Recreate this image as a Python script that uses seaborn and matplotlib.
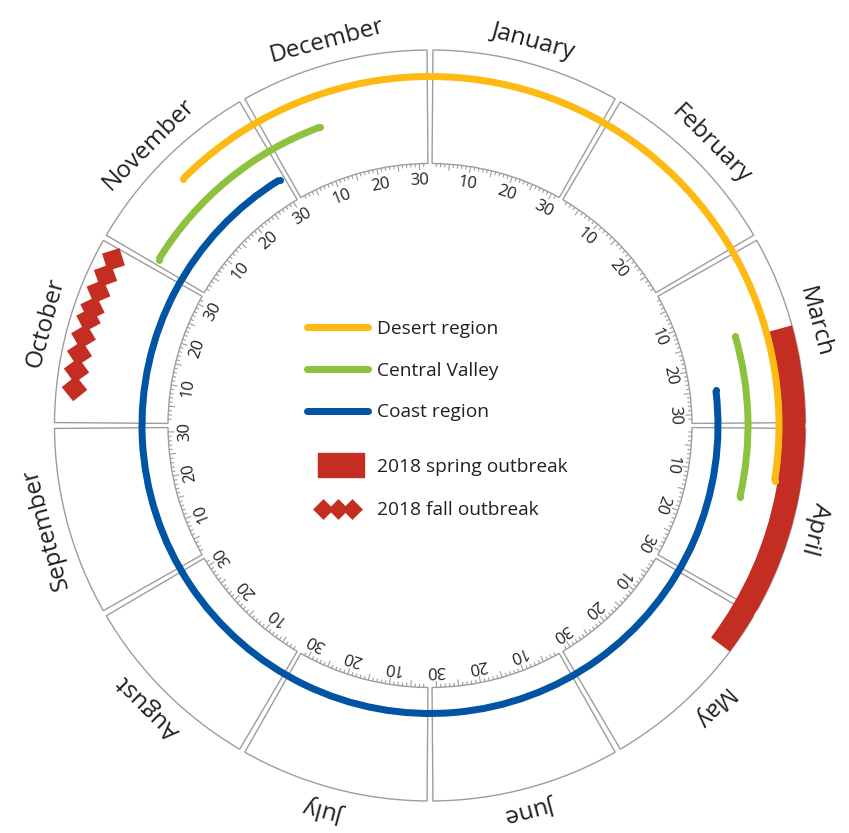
import numpy as np
import matplotlib
matplotlib.use("Agg")
import matplotlib.pyplot as plt
import matplotlib.patches as mpatches
from matplotlib.lines import Line2D
from matplotlib.legend_handler import HandlerLine2D, HandlerPatch
import seaborn as sns

# Calendar
months = ["January", "February", "March", "April", "May", "June",
          "July", "August", "September", "October", "November", "December"]
month_days = [31, 28, 31, 30, 31, 30, 31, 31, 30, 31, 30, 31]
tick_label_days = [10, 20, 30]

# Seasons per region, (month, day) start -> end, running clockwise
desert_start = [(11, 16)]
desert_end = [(4, 10)]
central_start = [(11, 2), (3, 15)]
central_end = [(12, 11), (4, 14)]
coast_start = [(3, 25)]
coast_end = [(11, 30)]

# 2018 outbreaks
spring_start = (3, 16)
spring_end = (5, 8)
fall_month = 10
fall_days = [7, 10, 13, 16, 19, 21, 24, 27, 30]

region_labels = ["Desert region", "Central Valley", "Coast region"]
outbreak_labels = ["2018 spring outbreak", "2018 fall outbreak"]

# colours
c_desert = "#fdba12"
c_central = "#8dc23f"
c_coast = "#0054a3"
c_red = "#c42d22"
c_grey = "#9d9d9d"
c_text = "#231f20"

# geometry (radius units are pixels)
R_IN, R_OUT = 262, 375.5
GAP = 0.9
LW = 7
R_DESERT, R_CENTRAL, R_COAST = 349, 318, 288
R_FALL = 358

sns.set_theme(style="white")
plt.rcParams["font.family"] = ["Open Sans", "DejaVu Sans"]


def theta(month, day):
    i = month - 1
    deg = i * 30 + GAP / 2 + (day - 1) / month_days[i] * (30 - GAP)
    return np.deg2rad(deg)


fig = plt.figure(figsize=(8.49, 8.33), dpi=100)
ax = fig.add_axes([20 / 849, -2.5 / 833, 820 / 849, 820 / 833], projection="polar")
ax.set_theta_zero_location("N")
ax.set_theta_direction(-1)
ax.set_ylim(0, 410)
ax.set_axis_off()

# month boxes, day ticks and labels
for i, name in enumerate(months):
    t0 = np.deg2rad(i * 30 + GAP / 2)
    ax.bar(t0, R_OUT - R_IN, width=np.deg2rad(30 - GAP), bottom=R_IN,
           align="edge", facecolor="none", edgecolor=c_grey, linewidth=1.0)
    days = np.arange(2, month_days[i] + 1)
    short = [theta(i + 1, d) for d in days if d % 5]
    long_ = [theta(i + 1, d) for d in days if d % 5 == 0]
    ax.vlines(short, R_IN - 3.5, R_IN, color=c_grey, linewidth=0.8)
    ax.vlines(long_, R_IN - 6.5, R_IN, color=c_grey, linewidth=0.8)
    for d in tick_label_days:
        if d <= month_days[i]:
            t = theta(i + 1, d)
            ax.text(t, 245, str(d), rotation=-np.rad2deg(t), rotation_mode="anchor",
                    ha="center", va="center", fontsize=12, color=c_text)
    mid = i * 30 + 15
    ax.text(np.deg2rad(mid), 398, name, rotation=-mid, rotation_mode="anchor",
            ha="center", va="center", fontsize=17.5, color=c_text)

# spring outbreak band
s0 = theta(*spring_start)
s1 = theta(*spring_end)
ax.bar(s0, R_OUT - 352, width=s1 - s0, bottom=352, align="edge",
       color=c_red, linewidth=0, zorder=3)

# fall outbreak diamonds
for d in fall_days:
    t = theta(fall_month, d)
    ax.plot([t], [R_FALL], marker=(4, 0, -np.rad2deg(t)), ms=18.5,
            color=c_red, mec="none", ls="none", zorder=3)


def draw_arcs(starts, ends, r, color):
    for a, b in zip(starts, ends):
        t0 = theta(*a)
        t1 = theta(*b)
        if t1 < t0:
            t1 += 2 * np.pi
        ax.bar(t0, LW, width=t1 - t0, bottom=r - LW / 2, align="edge",
               color=color, linewidth=0, zorder=4)
        ax.plot([t0, t1], [r, r], "o", ms=LW * 0.72, color=color,
                mec="none", zorder=4)


draw_arcs(desert_start, desert_end, R_DESERT, c_desert)
draw_arcs(central_start, central_end, R_CENTRAL, c_central)
draw_arcs(coast_start, coast_end, R_COAST, c_coast)

# legends
fs = 13.8
line_handles = [Line2D([], [], color=c, lw=LW * 0.72, solid_capstyle="round")
                for c in (c_desert, c_central, c_coast)]
leg1 = fig.legend(line_handles, region_labels, loc="center left",
                  bbox_to_anchor=(307 / 849, 1 - 370.5 / 833), frameon=False,
                  fontsize=fs, handlelength=61 * 0.72 / fs, handletextpad=0.45,
                  labelspacing=1.25, borderpad=0, borderaxespad=0,
                  labelcolor=c_text)


def spring_rect(legend, orig_handle, xdescent, ydescent, width, height, fontsize):
    return mpatches.Rectangle((-xdescent + 11 * 0.72, -ydescent + height / 2 - 8.6),
                              46 * 0.72, 17.3)


spring_handle = mpatches.Patch(color=c_red)
fall_handle = Line2D([], [], color=c_red, marker=(4, 0, 0), ms=15, ls="none",
                     mec="none")
leg2 = fig.legend([spring_handle, fall_handle], outbreak_labels, loc="center left",
                  bbox_to_anchor=(307 / 849, 1 - 488.5 / 833), frameon=False,
                  fontsize=fs, handlelength=61 * 0.72 / fs, handletextpad=0.45,
                  labelspacing=1.35, borderpad=0, borderaxespad=0,
                  labelcolor=c_text,
                  handler_map={spring_handle: HandlerPatch(patch_func=spring_rect),
                               fall_handle: HandlerLine2D(numpoints=3, marker_pad=0.85)})

fig.savefig("out.png", dpi=100)
